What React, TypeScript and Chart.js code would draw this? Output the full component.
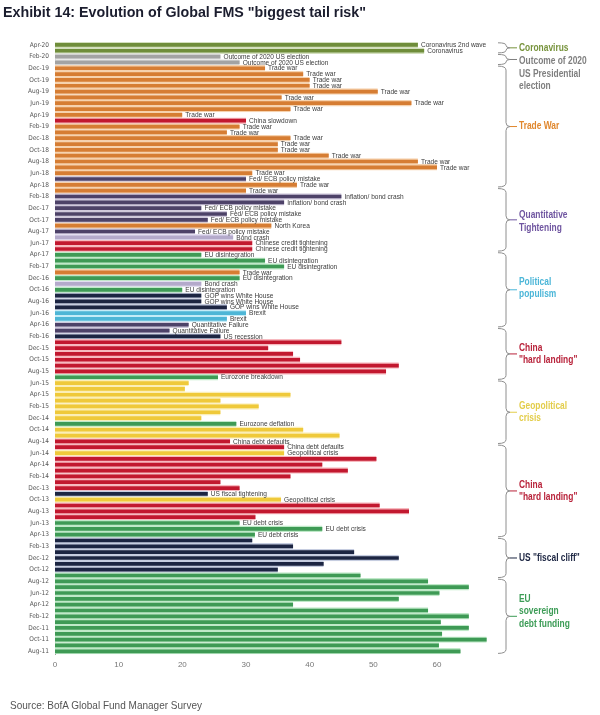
import React, { useEffect, useRef } from 'react';
import { Chart, registerables } from 'chart.js';

Chart.register(...registerables);

const SANS = '"Liberation Sans", Arial, sans-serif';
const COND = '"DejaVu Sans Condensed", "Liberation Sans", sans-serif';

const months = [
  'Apr-20', 'Mar-20', 'Feb-20', 'Jan-20',
  'Dec-19', 'Nov-19', 'Oct-19', 'Sep-19', 'Aug-19', 'Jul-19', 'Jun-19', 'May-19', 'Apr-19', 'Mar-19', 'Feb-19', 'Jan-19',
  'Dec-18', 'Nov-18', 'Oct-18', 'Sep-18', 'Aug-18', 'Jul-18', 'Jun-18', 'May-18', 'Apr-18', 'Mar-18', 'Feb-18', 'Jan-18',
  'Dec-17', 'Nov-17', 'Oct-17', 'Sep-17', 'Aug-17', 'Jul-17', 'Jun-17', 'May-17', 'Apr-17', 'Mar-17', 'Feb-17', 'Jan-17',
  'Dec-16', 'Nov-16', 'Oct-16', 'Sep-16', 'Aug-16', 'Jul-16', 'Jun-16', 'May-16', 'Apr-16', 'Mar-16', 'Feb-16', 'Jan-16',
  'Dec-15', 'Nov-15', 'Oct-15', 'Sep-15', 'Aug-15', 'Jul-15', 'Jun-15', 'May-15', 'Apr-15', 'Mar-15', 'Feb-15', 'Jan-15',
  'Dec-14', 'Nov-14', 'Oct-14', 'Sep-14', 'Aug-14', 'Jul-14', 'Jun-14', 'May-14', 'Apr-14', 'Mar-14', 'Feb-14', 'Jan-14',
  'Dec-13', 'Nov-13', 'Oct-13', 'Sep-13', 'Aug-13', 'Jul-13', 'Jun-13', 'May-13', 'Apr-13', 'Mar-13', 'Feb-13', 'Jan-13',
  'Dec-12', 'Nov-12', 'Oct-12', 'Sep-12', 'Aug-12', 'Jul-12', 'Jun-12', 'May-12', 'Apr-12', 'Mar-12', 'Feb-12', 'Jan-12',
  'Dec-11', 'Nov-11', 'Oct-11', 'Sep-11', 'Aug-11',
];

// % of FMS respondents naming the risk as the biggest tail risk
const shares = [
  57, 58, 26, 29,
  33, 39, 40, 40, 50.7, 35.6, 56, 37, 20, 30, 29, 27,
  37, 35, 35, 43, 57, 60, 31, 30, 38, 30, 45, 36,
  23, 27, 24, 34, 22, 28, 31, 31, 23, 33, 36, 29,
  29, 23, 20, 23, 23, 27, 30, 27, 21, 18, 26, 45,
  33.5, 37.4, 38.5, 54, 52, 25.6, 21, 20.4, 37, 26, 32, 26,
  23, 28.5, 39, 44.7, 27.5, 36, 36, 50.5, 42, 46, 37, 26,
  29, 24, 35.5, 51, 55.6, 31.5, 29, 42, 31.4, 31, 37.4, 47,
  54, 42.2, 35, 48, 58.6, 65, 60.4, 54, 37.4, 58.6, 65, 60.6,
  65, 60.8, 67.8, 60.3, 63.7,
];

// risk named for each month (blank where the chart shows no text)
const risks = [
  'Coronavirus 2nd wave', 'Coronavirus', 'Outcome of 2020 US election', 'Outcome of 2020 US election',
  'Trade war', 'Trade war', 'Trade war', 'Trade war', 'Trade war', 'Trade war', 'Trade war', 'Trade war', 'Trade war',
  'China slowdown',
  'Trade war', 'Trade war', 'Trade war', 'Trade war', 'Trade war', 'Trade war', 'Trade war', 'Trade war', 'Trade war',
  'Fed/ ECB policy mistake', 'Trade war', 'Trade war', 'Inflation/ bond crash', 'Inflation/ bond crash',
  'Fed/ ECB policy mistake', 'Fed/ ECB policy mistake', 'Fed/ ECB policy mistake', 'North Korea', 'Fed/ ECB policy mistake',
  'Bond crash', 'Chinese credit tightening', 'Chinese credit tightening',
  'EU disintegration', 'EU disintegration', 'EU disintegration', 'Trade war', 'EU disintegration', 'Bond crash', 'EU disintegration',
  'GOP wins White House', 'GOP wins White House', 'GOP wins White House', 'Brexit', 'Brexit',
  'Quantitative Failure', 'Quantitative Failure', 'US recession',
  '', '', '', '', '', '',
  'Eurozone breakdown',
  '', '', '', '', '', '', '',
  'Eurozone deflation', '', '',
  'China debt defaults', 'China debt defaults', 'Geopolitical crisis',
  '', '', '', '', '', '',
  'US fiscal tightening', 'Geopolitical crisis',
  '', '', '',
  'EU debt crisis', 'EU debt crisis', 'EU debt crisis',
  '', '', '', '', '', '',
  '', '', '', '', '', '', '', '', '', '', '', '', '', '',
];

// theme of each month's risk (drives the colour)
const themes = [
  'covid', 'covid', 'election', 'election',
  'trade', 'trade', 'trade', 'trade', 'trade', 'trade', 'trade', 'trade', 'trade',
  'china',
  'trade', 'trade', 'trade', 'trade', 'trade', 'trade', 'trade', 'trade', 'trade',
  'fed', 'trade', 'trade', 'fed', 'fed', 'fed', 'fed', 'fed', 'trade', 'fed',
  'bond', 'china', 'china', 'eu', 'eu', 'eu', 'trade', 'eu', 'bond', 'eu',
  'us', 'us', 'us', 'brexit', 'brexit', 'fed', 'fed', 'us',
  'china', 'china', 'china', 'china', 'china', 'china',
  'eu',
  'geo', 'geo', 'geo', 'geo', 'geo', 'geo', 'geo',
  'eu', 'geo', 'geo',
  'china', 'china', 'geo',
  'china', 'china', 'china', 'china', 'china', 'china',
  'us', 'geo',
  'china', 'china', 'china',
  'eu', 'eu', 'eu',
  'us', 'us', 'us', 'us', 'us', 'us',
  'eu', 'eu', 'eu', 'eu', 'eu', 'eu', 'eu', 'eu', 'eu', 'eu', 'eu', 'eu', 'eu', 'eu',
];

const xTicks = [0, 10, 20, 30, 40, 50, 60];

// bracketed regimes on the right
const groupNames = [
  ['Coronavirus'],
  ['Outcome of 2020', 'US Presidential', 'election'],
  ['Trade War'],
  ['Quantitative', 'Tightening'],
  ['Political', 'populism'],
  ['China', '"hard landing"'],
  ['Geopolitical', 'crisis'],
  ['China', '"hard landing"'],
  ['US "fiscal cliff"'],
  ['EU', 'sovereign', 'debt funding'],
];
const groupFrom = ['Apr-20', 'Feb-20', 'Dec-19', 'Mar-18', 'Apr-17', 'Mar-16', 'Jun-15', 'Jul-14', 'Mar-13', 'Aug-12'];
const groupTo = ['Mar-20', 'Jan-20', 'Apr-18', 'May-17', 'Apr-16', 'Jul-15', 'Aug-14', 'Apr-13', 'Sep-12', 'Aug-11'];
const groupThemes = ['covid', 'election', 'trade', 'fed', 'brexit', 'china', 'geo', 'china', 'us', 'eu'];

// ---- styles ----
const barColor: Record<string, string> = {
  covid: '#6f8d3a',
  election: '#a3a3a3',
  trade: '#d67d33',
  china: '#c2182f',
  fed: '#4d4268',
  bond: '#b4aacb',
  eu: '#3e9a55',
  us: '#1c2542',
  brexit: '#4eb6d6',
  geo: '#efc93a',
};
const tintColor: Record<string, string> = {
  covid: '#d3dfbd',
  election: '#e2e2e2',
  trade: '#f6d2ae',
  china: '#f7b9bf',
  fed: '#cfc8dc',
  bond: '#e3def0',
  eu: '#bfe9c8',
  us: '#c6cde0',
  brexit: '#c4ecf7',
  geo: '#fbeeb6',
};
const labelColor: Record<string, string> = {
  covid: '#77933c',
  election: '#7f7f7f',
  trade: '#e0872d',
  fed: '#6f55a0',
  brexit: '#4bb6d8',
  china: '#b8223a',
  geo: '#e3cd4a',
  us: '#1c2542',
  eu: '#3c9c56',
};
const groupTextOffset = [0, 14.6, 0, 2, -1.5, 0, 0, 0, 0, -5];
const NARROW_X = 0.82;

function narrowText(ctx: CanvasRenderingContext2D, text: string, x: number, y: number, sx: number) {
  ctx.save();
  ctx.translate(x, y);
  ctx.scale(sx, 1);
  ctx.fillText(text, 0, 0);
  ctx.restore();
}

const barLabelPlugin = {
  id: 'barLabels',
  afterDatasetsDraw(chart: any) {
    const meta = chart.getDatasetMeta(0);
    const ctx = chart.ctx;
    ctx.save();
    ctx.font = `8px ${SANS}`;
    ctx.fillStyle = '#3b3b3b';
    ctx.textBaseline = 'middle';
    ctx.textAlign = 'left';
    meta.data.forEach((bar: any, i: number) => {
      const t = risks[i];
      if (!t) return;
      narrowText(ctx, t, bar.x + 3, bar.y, NARROW_X);
    });
    ctx.restore();
  },
};

const bracketPlugin = {
  id: 'brackets',
  afterDraw(chart: any) {
    const ctx = chart.ctx;
    const y = chart.scales.y;
    const half = (y.getPixelForValue(1) - y.getPixelForValue(0)) / 2;
    const x = 506;
    const hx = 498;
    const r = 4;
    ctx.save();
    groupNames.forEach((lines, g) => {
      const top = y.getPixelForValue(months.indexOf(groupFrom[g])) - half + 0.8;
      const bot = y.getPixelForValue(months.indexOf(groupTo[g])) + half - 0.8;
      const mid = (top + bot) / 2;
      const rr = Math.min(r, (bot - top) / 4);
      ctx.strokeStyle = '#8e8e8e';
      ctx.lineWidth = 1;
      ctx.beginPath();
      ctx.moveTo(hx, top);
      ctx.quadraticCurveTo(x, top, x, top + rr);
      ctx.lineTo(x, mid - rr);
      ctx.quadraticCurveTo(x, mid, x + 4, mid);
      ctx.quadraticCurveTo(x, mid, x, mid + rr);
      ctx.lineTo(x, bot - rr);
      ctx.quadraticCurveTo(x, bot, hx, bot);
      ctx.stroke();
      const col = labelColor[groupThemes[g]];
      ctx.strokeStyle = col;
      ctx.beginPath();
      ctx.moveTo(x + 4, mid);
      ctx.lineTo(x + 11, mid);
      ctx.stroke();
      ctx.fillStyle = col;
      ctx.font = `bold 10.5px ${SANS}`;
      ctx.textBaseline = 'middle';
      ctx.textAlign = 'left';
      const lh = 12.5;
      const cy = mid + groupTextOffset[g];
      lines.forEach((ln, k) => {
        narrowText(ctx, ln, 519, cy - ((lines.length - 1) * lh) / 2 + k * lh, 0.8);
      });
    });
    ctx.restore();
  },
};

function fitWidth(el: HTMLElement | null, target: number) {
  if (!el) return;
  el.style.transform = 'none';
  const w = el.getBoundingClientRect().width;
  if (w > 0) el.style.transform = `scaleX(${target / w})`;
}

export default function App() {
  const ref = useRef<HTMLCanvasElement>(null);
  const titleRef = useRef<HTMLDivElement>(null);
  const sourceRef = useRef<HTMLDivElement>(null);
  useEffect(() => {
    document.body.style.margin = '0';
    fitWidth(titleRef.current, 363);
    fitWidth(sourceRef.current, 192);
    const chart = new Chart(ref.current as HTMLCanvasElement, {
      type: 'bar',
      data: {
        labels: months,
        datasets: [
          {
            data: shares,
            backgroundColor: themes.map((t) => barColor[t]),
            borderColor: themes.map((t) => tintColor[t]),
            borderWidth: { top: 1.4, bottom: 1.4, left: 0, right: 0 },
            borderSkipped: false,
            barPercentage: 1,
            categoryPercentage: 1,
          },
        ],
      },
      options: {
        indexAxis: 'y',
        responsive: false,
        maintainAspectRatio: false,
        devicePixelRatio: 1,
        animation: false,
        layout: { padding: { top: 42, right: 99.3, bottom: 38.8, left: 0 } },
        plugins: {
          legend: { display: false },
          tooltip: { enabled: false },
          title: { display: false },
        },
        scales: {
          y: {
            type: 'category',
            grid: { display: false, drawTicks: false },
            border: { display: true, color: '#9a9a9a', width: 1 },
            afterFit: (s: any) => {
              s.width = 55;
            },
            ticks: {
              autoSkip: false,
              padding: 6,
              color: '#555555',
              font: { size: 6.5, family: COND },
              callback: (_v: any, i: number) => (i % 2 === 0 ? months[i] : ''),
            },
          },
          x: {
            type: 'linear',
            min: 0,
            max: 70,
            grid: { display: false, drawTicks: false },
            border: { display: false },
            afterFit: (s: any) => {
              s.height = 22;
            },
            afterBuildTicks: (s: any) => {
              s.ticks = xTicks.map((v) => ({ value: v }));
            },
            ticks: {
              padding: 6,
              color: '#777777',
              font: { size: 8, family: SANS },
            },
          },
        },
      },
      plugins: [barLabelPlugin, bracketPlugin],
    } as any);
    return () => chart.destroy();
  }, []);

  return (
    <div style={{ position: 'relative', width: 600, height: 715, background: '#ffffff', overflow: 'hidden' }}>
      <canvas ref={ref} width={600} height={715} style={{ position: 'absolute', left: 0, top: 0, width: 600, height: 715 }} />
      <div
        ref={titleRef}
        style={{
          position: 'absolute',
          left: 3,
          top: 3,
          display: 'inline-block',
          transformOrigin: 'left center',
          font: `bold 15px ${SANS}`,
          color: '#1b1d2e',
          whiteSpace: 'nowrap',
        }}
      >
        Exhibit 14: Evolution of Global FMS "biggest tail risk"
      </div>
      <div
        ref={sourceRef}
        style={{
          position: 'absolute',
          left: 10,
          top: 699,
          display: 'inline-block',
          transformOrigin: 'left center',
          font: `11.5px ${SANS}`,
          color: '#555555',
          whiteSpace: 'nowrap',
        }}
      >
        Source: BofA Global Fund Manager Survey
      </div>
    </div>
  );
}
